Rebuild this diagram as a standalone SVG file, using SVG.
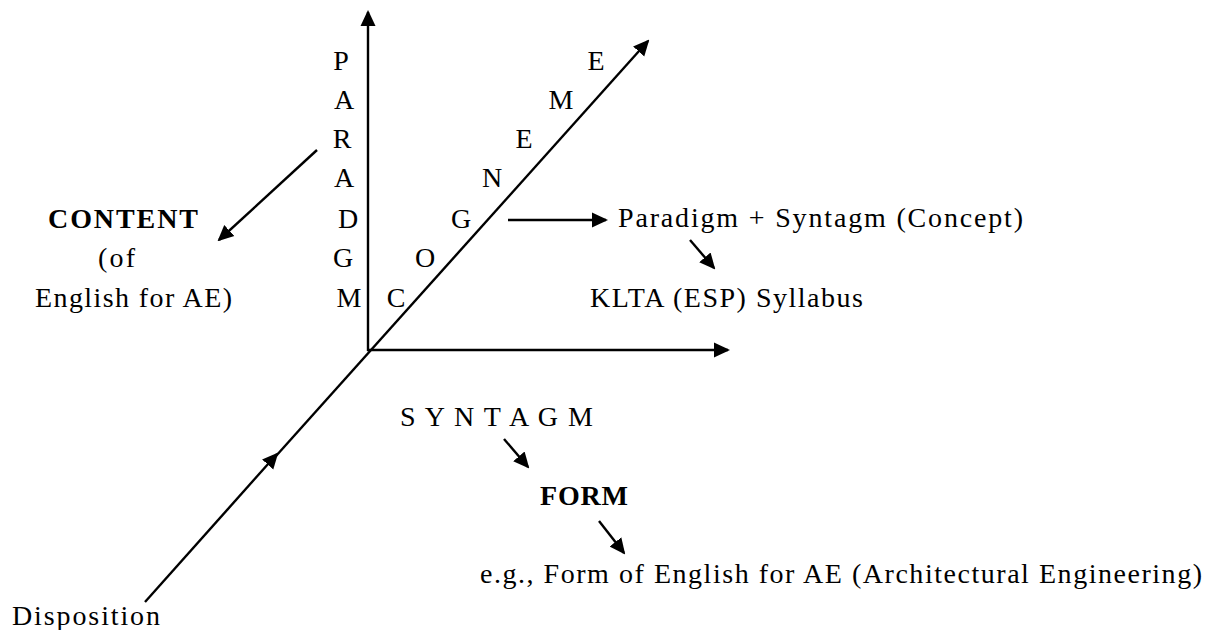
<svg xmlns="http://www.w3.org/2000/svg" width="1208" height="630" viewBox="0 0 1208 630">
<defs>
<style>
text{font-family:"Liberation Serif","Times New Roman",serif;font-size:28px;fill:#000}
.b{font-weight:bold}
.c{text-anchor:middle}
.ar{stroke:#000;stroke-width:2.4;fill:none;marker-end:url(#ah)}
</style>
<marker id="ah" markerUnits="userSpaceOnUse" viewBox="0 0 16 16" markerWidth="16" markerHeight="16" refX="14" refY="8" orient="auto">
<path d="M0,0.5 L16,8 L0,15.5 z" fill="#000"/>
</marker>
</defs>
<rect width="1208" height="630" fill="#fff"/>
<g id="connectors">
<line class="ar" x1="368" y1="351" x2="368" y2="12"/>
<line class="ar" x1="367" y1="350" x2="728" y2="350"/>
<line class="ar" x1="145" y1="602" x2="277" y2="454"/>
<line class="ar" x1="276" y1="456" x2="648" y2="41"/>
<line class="ar" x1="317" y1="150" x2="219" y2="240"/>
<line class="ar" x1="508" y1="220" x2="606" y2="220"/>
<line class="ar" x1="690" y1="240" x2="714" y2="268"/>
<line class="ar" x1="504" y1="439" x2="528" y2="467"/>
<line class="ar" x1="599" y1="521" x2="624" y2="553"/>
</g>
<g id="paradigm">
<text class="c" x="341" y="70">P</text>
<text class="c" x="344" y="109">A</text>
<text class="c" x="342" y="148">R</text>
<text class="c" x="344" y="187">A</text>
<text class="c" x="348" y="228">D</text>
<text class="c" x="343" y="267">G</text>
<text class="c" x="349" y="307">M</text>
</g>
<g id="cogneme">
<text class="c" x="396" y="307">C</text>
<text class="c" x="425" y="267">O</text>
<text class="c" x="461" y="228">G</text>
<text class="c" x="492" y="187">N</text>
<text class="c" x="524" y="148">E</text>
<text class="c" x="561" y="109">M</text>
<text class="c" x="596" y="70">E</text>
</g>
<g id="content">
<text class="b" x="48" y="228" textLength="150">CONTENT</text>
<text x="98" y="267" textLength="37">(of</text>
<text x="35" y="307" textLength="197">English for AE)</text>
</g>
<g id="concept">
<text x="618" y="227" textLength="405">Paradigm + Syntagm (Concept)</text>
</g>
<g id="syllabus">
<text x="590" y="307" textLength="273">KLTA (ESP) Syllabus</text>
</g>
<g id="syntagm">
<text x="400" y="426" textLength="193">S Y N T A G M</text>
</g>
<g id="form">
<text class="b" x="540" y="505" textLength="88">FORM</text>
</g>
<g id="example">
<text x="480" y="583" textLength="722">e.g., Form of English for AE (Architectural Engineering)</text>
</g>
<g id="disposition">
<text x="12" y="625" textLength="148">Disposition</text>
</g>
</svg>
